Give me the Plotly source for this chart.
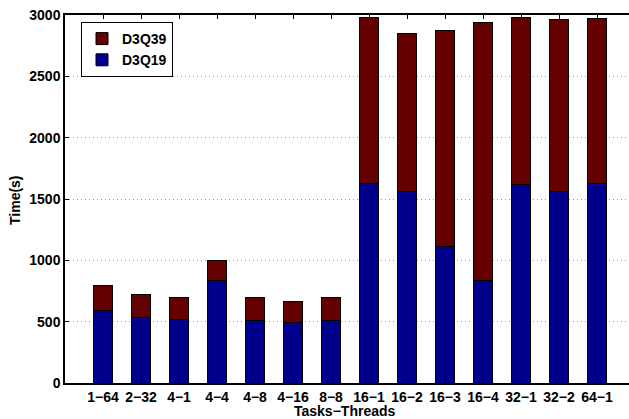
import plotly.graph_objects as go

categories = ["1\u221264", "2\u221232", "4\u22121", "4\u22124", "4\u22128", "4\u221216", "8\u22128",
              "16\u22121", "16\u22122", "16\u22123", "16\u22124", "32\u22121", "32\u22122", "64\u22121"]
d3q19 = [592, 538, 514, 838, 511, 495, 511, 1628, 1565, 1111, 837, 1622, 1565, 1630]
d3q39_total = [796, 723, 693, 1000, 693, 668, 695, 2983, 2853, 2877, 2935, 2983, 2967, 2975]
d3q39 = [t - b for t, b in zip(d3q39_total, d3q19)]
positions = list(range(1, len(categories) + 1))
y_ticks = [0, 500, 1000, 1500, 2000, 2500, 3000]

W, H = 629, 419
ml, mr, mt, mb = 65, 0, 15, 36
plot_h = H - mt - mb
px_per_unit = 38.0
xmax = (W - ml - mr) / px_per_unit

font = dict(family="Liberation Sans", size=14, color="black", weight="bold")


def b(s):
    return "<b>" + str(s) + "</b>"


fig = go.Figure()
fig.add_trace(go.Bar(x=positions, y=d3q19, name=b("D3Q19"), width=0.52,
                     marker=dict(color="#00008C", line=dict(color="black", width=1))))
fig.add_trace(go.Bar(x=positions, y=d3q39, name=b("D3Q39"), width=0.52,
                     marker=dict(color="#640000", line=dict(color="black", width=1))))

fig.update_layout(
    width=W, height=H,
    margin=dict(l=ml, r=mr, t=mt, b=mb, pad=0, autoexpand=False),
    barmode="stack",
    plot_bgcolor="white", paper_bgcolor="white",
    font=font,
    showlegend=True,
    legend=dict(x=(81 - ml) / (W - ml - mr), y=1 - (22 - mt) / plot_h, xanchor="left", yanchor="top",
                bordercolor="black", borderwidth=1, bgcolor="white",
                traceorder="reversed", font=font,
                itemwidth=30, tracegroupgap=0),
    xaxis=dict(range=[0, xmax], tickvals=positions, ticktext=[b(c) for c in categories],
               ticks="inside", ticklen=4, tickcolor="black", tickwidth=1,
               showline=True, linecolor="black", linewidth=1.5, mirror="ticks",
               showgrid=False, zeroline=False, tickfont=font, automargin=False),
    yaxis=dict(range=[0, 3000], tickvals=y_ticks, ticktext=[b(v) for v in y_ticks],
               ticks="inside", ticklen=4, tickcolor="black", tickwidth=1,
               showline=True, linecolor="black", linewidth=1.5, mirror=False,
               showgrid=True, gridcolor="#999999", griddash="1px,3px", gridwidth=1,
               zeroline=False, tickfont=font, automargin=False),
    annotations=[
        dict(text=b("Tasks\u2212Threads"), xref="paper", yref="paper",
             x=(345 - ml) / (W - ml - mr), y=-(411 - (H - mb)) / plot_h,
             xanchor="center", yanchor="middle", showarrow=False, font=font),
        dict(text=b("Time(s)"), xref="paper", yref="paper",
             x=-(ml - 15) / (W - ml - mr), y=1 - (200 - mt) / plot_h, textangle=-90,
             xanchor="center", yanchor="middle", showarrow=False, font=font),
    ],
)

fig.write_html("out.html", config={"displayModeBar": False},
               post_script="document.body.style.margin='0';document.body.style.overflow='hidden';")
